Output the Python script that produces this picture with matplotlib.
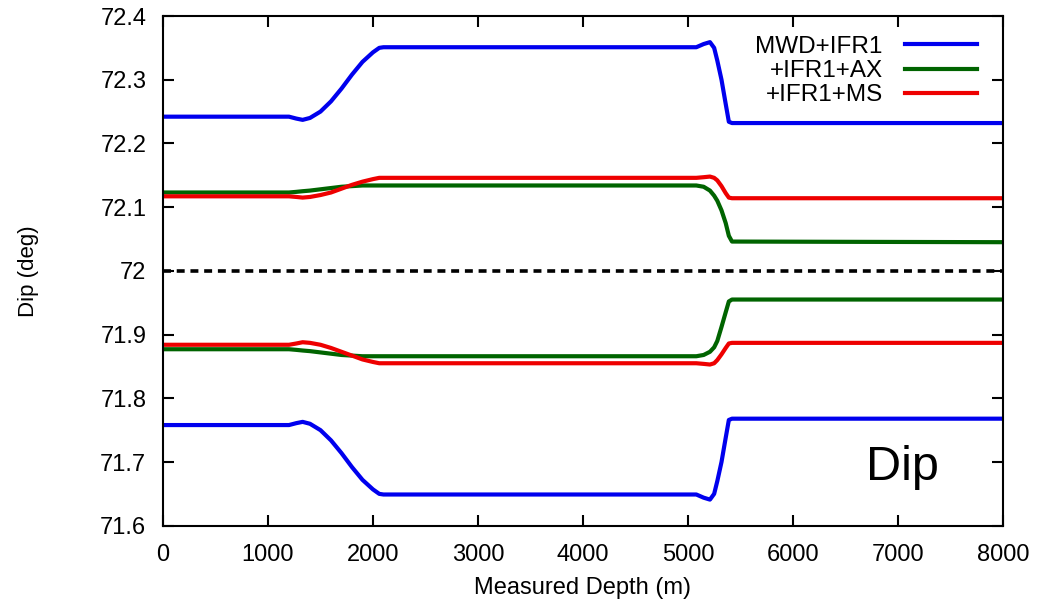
import matplotlib
matplotlib.use("Agg")
import matplotlib.pyplot as plt

plt.rcParams['font.family'] = ['Liberation Sans', 'DejaVu Sans']

# Measured depth grid (m)
depth = [0, 1200, 1270, 1330, 1400, 1500, 1600, 1700, 1800, 1900, 2000, 2060, 2100,
         5080, 5150, 5210, 5250, 5280, 5320, 5360, 5390, 5420, 8000]

# Upper / lower dip uncertainty bounds (deg) for each survey model
mwd_ifr1_hi = [72.242, 72.242, 72.239, 72.237, 72.240, 72.250, 72.266, 72.286, 72.308, 72.328, 72.343, 72.350, 72.351,
               72.351, 72.356, 72.359, 72.350, 72.330, 72.300, 72.262, 72.234, 72.232, 72.232]
mwd_ifr1_lo = [71.758, 71.758, 71.761, 71.763, 71.760, 71.750, 71.734, 71.714, 71.692, 71.672, 71.657, 71.650, 71.649,
               71.649, 71.644, 71.641, 71.650, 71.670, 71.700, 71.738, 71.766, 71.768, 71.768]

ifr1_ax_hi = [72.123, 72.123, 72.124, 72.125, 72.126, 72.128, 72.130, 72.132, 72.133, 72.134, 72.134, 72.134, 72.134,
              72.134, 72.132, 72.126, 72.118, 72.110, 72.095, 72.075, 72.055, 72.046, 72.045]
ifr1_ax_lo = [71.877, 71.877, 71.876, 71.875, 71.874, 71.872, 71.870, 71.868, 71.867, 71.866, 71.866, 71.866, 71.866,
              71.866, 71.868, 71.873, 71.880, 71.890, 71.912, 71.935, 71.952, 71.955, 71.955]

ifr1_ms_hi = [72.117, 72.117, 72.116, 72.115, 72.116, 72.119, 72.123, 72.129, 72.135, 72.140, 72.144, 72.146, 72.146,
              72.146, 72.147, 72.148, 72.146, 72.142, 72.133, 72.122, 72.115, 72.114, 72.114]
ifr1_ms_lo = [71.884, 71.884, 71.886, 71.888, 71.887, 71.884, 71.879, 71.873, 71.867, 71.861, 71.857, 71.855, 71.855,
              71.855, 71.854, 71.853, 71.855, 71.860, 71.869, 71.879, 71.886, 71.887, 71.887]

nominal_dip = 72.0

x_ticks = [0, 1000, 2000, 3000, 4000, 5000, 6000, 7000, 8000]
y_ticks = [71.6, 71.7, 71.8, 71.9, 72.0, 72.1, 72.2, 72.3, 72.4]
y_tick_labels = ['71.6', '71.7', '71.8', '71.9', '72', '72.1', '72.2', '72.3', '72.4']

fig = plt.figure(figsize=(10.49, 6.04), dpi=100)
ax = fig.add_axes([0.1554, 0.1296, 0.8006, 0.8439])

lw = 3.0
blue, green, red = '#0000ee', '#006400', '#ee0000'

ax.plot(depth, mwd_ifr1_hi, color=blue, lw=lw, label='MWD+IFR1')
ax.plot(depth, ifr1_ax_hi, color=green, lw=lw, label='+IFR1+AX')
ax.plot(depth, ifr1_ms_hi, color=red, lw=lw, label='+IFR1+MS')
ax.plot(depth, mwd_ifr1_lo, color=blue, lw=lw)
ax.plot(depth, ifr1_ax_lo, color=green, lw=lw)
ax.plot(depth, ifr1_ms_lo, color=red, lw=lw)
ax.axhline(nominal_dip, color='black', lw=2.6, ls=(0, (2.2, 1.6)))

ax.set_xlim(0, 8000)
ax.set_ylim(71.6, 72.4)
ax.set_xticks(x_ticks)
ax.set_yticks(y_ticks)
ax.set_yticklabels(y_tick_labels)
ax.tick_params(direction='in', length=8, width=1.5, top=True, right=True,
               labelsize=17)
ax.tick_params(axis='y', pad=12)
ax.tick_params(axis='x', pad=13)
for s in ax.spines.values():
    s.set_linewidth(1.5)

ax.set_xlabel('Measured Depth (m)', fontsize=17, labelpad=8)
ax.set_ylabel('Dip (deg)', fontsize=16, labelpad=44)

ax.text(0.88, 0.115, 'Dip', transform=ax.transAxes, fontsize=35, ha='center', va='center')

leg = ax.legend(loc='upper right', frameon=False, markerfirst=False, fontsize=17.5,
                handlelength=3.0, handletextpad=0.9, labelspacing=0.1,
                borderaxespad=0.3, bbox_to_anchor=(0.99, 0.995))
for t in leg.get_texts():
    t.set_ha('right')

fig.savefig('out.png', dpi=100, facecolor='white')
